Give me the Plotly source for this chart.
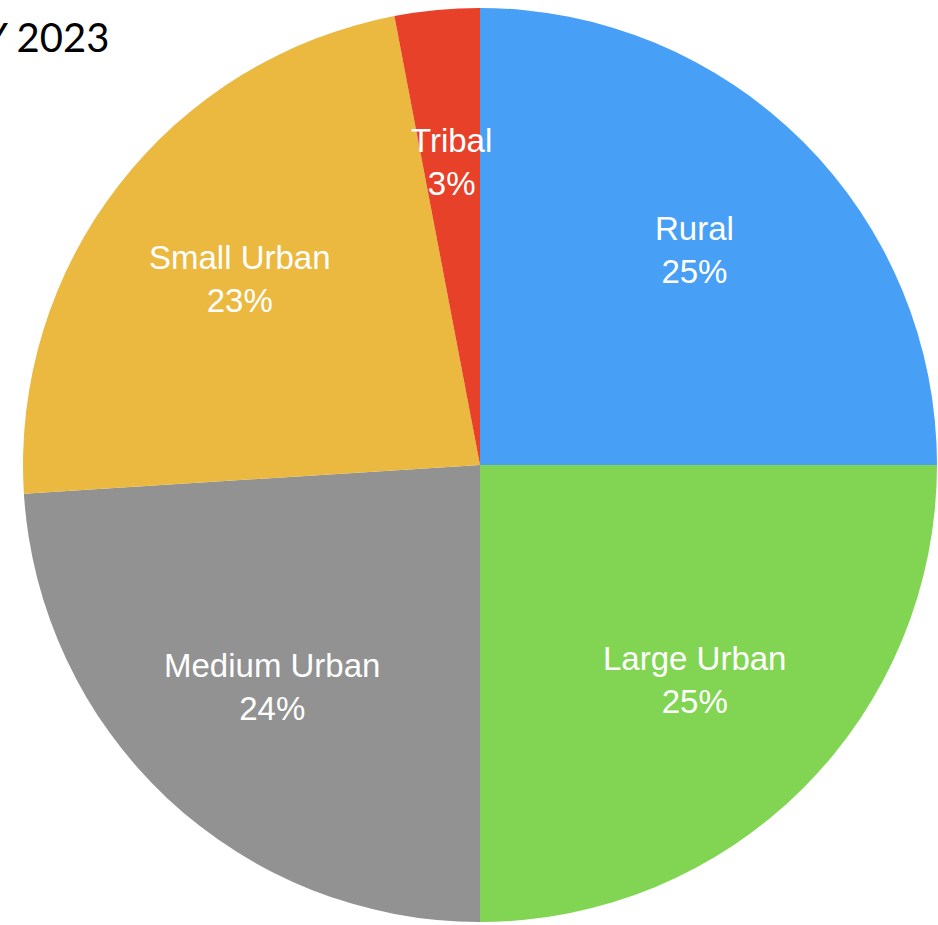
import math
import plotly.graph_objects as go

# Share of funding by community type
categories = ["Rural", "Large Urban", "Medium Urban", "Small Urban", "Tribal"]
shares = [25, 25, 24, 23, 3]
colors = ["#489FF6", "#82D552", "#929292", "#EBB93F", "#E8412A"]
title_text = "Y 2023"

W, H = 938, 925
margin = dict(l=22, r=0, t=8, b=3)

fig = go.Figure(
    go.Pie(
        labels=categories,
        values=shares,
        sort=False,
        direction="clockwise",
        rotation=0,
        marker=dict(colors=colors, line=dict(width=0)),
        textinfo="none",
        hoverinfo="label+percent",
        showlegend=False,
    )
)

# Pie geometry in pixels (full-domain pie inside the plot area)
plot_w = W - margin["l"] - margin["r"]
plot_h = H - margin["t"] - margin["b"]
radius = min(plot_w, plot_h) / 2
cx = margin["l"] + plot_w / 2
cy = margin["t"] + plot_h / 2


def to_paper(px, py):
    return (px - margin["l"]) / plot_w, 1 - (py - margin["t"]) / plot_h


# Slice labels placed at each slice's mid-angle
total = sum(shares)
start = 0.0
annotations = []
for name, val in zip(categories, shares):
    sweep = 360.0 * val / total
    mid = math.radians(start + sweep / 2)
    start += sweep
    r = 0.665 * radius
    px = cx + r * math.sin(mid)
    py = cy - r * math.cos(mid)
    x, y = to_paper(px, py)
    pct = round(100 * val / total)
    annotations.append(
        dict(
            x=x, y=y, xref="paper", yref="paper",
            text=f"{name}<br>{pct}%",
            showarrow=False,
            xanchor="center", yanchor="middle",
            font=dict(family="Liberation Sans, Arial, sans-serif", size=33, color="white"),
            align="center",
        )
    )

# Title in the top-left corner
tx, ty = to_paper(111, 37)
annotations.append(
    dict(
        x=tx, y=ty, xref="paper", yref="paper",
        text=title_text,
        showarrow=False,
        xanchor="right", yanchor="middle",
        font=dict(family="Lato, sans-serif", size=40, color="black"),
    )
)

fig.update_layout(
    width=W,
    height=H,
    margin=margin,
    paper_bgcolor="white",
    plot_bgcolor="white",
    annotations=annotations,
)

fig.write_html("out.html")
